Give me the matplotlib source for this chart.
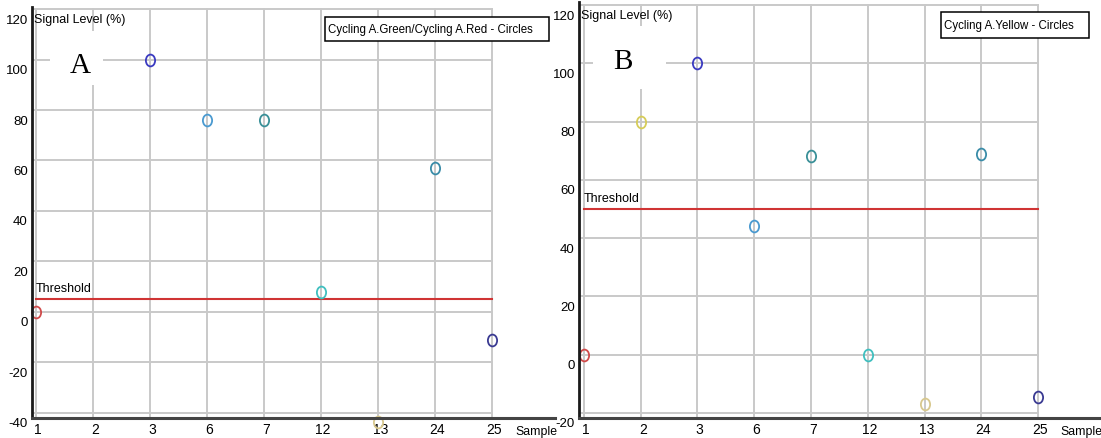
import numpy as np
import matplotlib.pyplot as plt
from matplotlib.path import Path
from matplotlib.patches import Rectangle
from matplotlib.transforms import Affine2D, ScaledTranslation

samples = ['1', '2', '3', '6', '7', '12', '13', '24', '25']
sample_colors = ['#d04a4a', '#d6cc58', '#3a3ac0', '#4a9ad0', '#3a9098',
                 '#3fbfbf', '#d8c88e', '#3a8ca8', '#3a3a92']

signal_a = [0, np.nan, 100, 76, 76, 8, -43.5, 57, -11]
signal_b = [0, 80, 100, 44, 68, 0, -17, 69, -14.6]

threshold_a = 5
threshold_b = 50

yticks_a = [120, 100, 80, 60, 40, 20, 0, -20, -40]
yticks_b = [120, 100, 80, 60, 40, 20, 0, -20]

plt.rcParams['font.family'] = ['Liberation Sans', 'DejaVu Sans']

# slightly tall ellipse, like the instrument software draws
circle = Path.unit_circle().transformed(Affine2D().scale(0.78, 1.0))

fig = plt.figure(figsize=(11.01, 4.39), dpi=100)


def shift(dx, dy):
    return ScaledTranslation(dx / 100, dy / 100, fig.dpi_scale_trans)


def panel(rect, values, threshold, yticks, ylim, xlim, letter, legend_text,
          legend_rect, letter_xy, letter_box):
    ax = fig.add_axes(rect)
    x = np.arange(len(samples))
    ax.set_xlim(*xlim)
    ax.set_ylim(*ylim)

    # grid only spans the sample columns
    for yv in yticks:
        ax.plot([xlim[0], x[-1]], [yv, yv], color='#c9c9c9', lw=1.4, zorder=1)
    for xv in x:
        ax.plot([xv, xv], [ylim[0], yticks[0]], color='#c9c9c9', lw=1.4, zorder=1)

    ax.plot([x[0], x[-1]], [threshold, threshold], color='#d03434', lw=1.5, zorder=2)
    ax.text(x[0], threshold, 'Threshold', fontsize=9, ha='left', va='bottom',
            zorder=3, transform=ax.transData + shift(0, 5))

    for xi, v, c in zip(x, values, sample_colors):
        if np.isnan(v):
            continue
        ax.plot(xi, v, marker=circle, ms=8.5, mfc='none', mec=c, mew=1.3,
                ls='none', zorder=4, clip_on=False)

    ax.set_xticks(x)
    ax.set_xticklabels(samples, fontsize=10)
    ax.set_yticks(yticks)
    ax.set_yticklabels([str(t) for t in yticks], fontsize=9.5)
    ax.tick_params(length=0, pad=3)
    for lab in ax.get_yticklabels():
        lab.set_transform(lab.get_transform() + shift(0, -9))
    for lab in ax.get_xticklabels():
        lab.set_transform(lab.get_transform() + shift(2, 0))

    for s in ['top', 'right']:
        ax.spines[s].set_visible(False)
    ax.spines['left'].set_color('#1a1a1a')
    ax.spines['left'].set_linewidth(2)
    ax.spines['bottom'].set_color('#444444')
    ax.spines['bottom'].set_linewidth(2.2)
    ax.spines['left'].set_zorder(5)
    ax.spines['bottom'].set_zorder(5)

    ax.text(0.003, 1, 'Signal Level (%)', fontsize=9, ha='left', va='center',
            transform=ax.transAxes + shift(0, -12.5))
    ax.text(x[-1] + 0.4, ylim[0], 'Sample', fontsize=8.8, ha='left',
            va='center', transform=ax.transData + shift(0, -13))

    # panel letter on a white patch covering the grid
    lx0, ly0, lx1, ly1 = letter_box
    fig.patches.append(Rectangle((lx0 / 1101, 1 - ly1 / 439),
                                 (lx1 - lx0) / 1101, (ly1 - ly0) / 439,
                                 transform=fig.transFigure, facecolor='white',
                                 edgecolor='none', zorder=6))
    fig.text(letter_xy[0] / 1101, 1 - letter_xy[1] / 439, letter,
             family=['Liberation Serif', 'DejaVu Serif'], fontsize=21,
             ha='center', va='center', zorder=7)

    bx0, by0, bx1, by1 = legend_rect
    fig.patches.append(Rectangle((bx0 / 1101, 1 - by1 / 439),
                                 (bx1 - bx0) / 1101, (by1 - by0) / 439,
                                 transform=fig.transFigure, facecolor='white',
                                 edgecolor='black', lw=1.1, zorder=6))
    fig.text((bx0 + 3) / 1101, 1 - (by0 + by1) / 2 / 439, legend_text,
             fontsize=8.3, ha='left', va='center', zorder=7)
    return ax


panel([32 / 1101, 20 / 439, 523 / 1101, 411.5 / 439], signal_a, threshold_a,
      yticks_a, (-42, 121), (-0.07, 9.1), 'A',
      'Cycling A.Green/Cycling A.Red - Circles', (325, 18, 549, 42),
      (80, 66), (50, 32, 103, 86))

panel([579 / 1101, 20.3 / 439, 522 / 1101, 415.6 / 439], signal_b, threshold_b,
      yticks_b, (-21.7, 121), (-0.088, 9.11), 'B',
      'Cycling A.Yellow - Circles', (941, 13, 1089, 39),
      (623, 62), (593, 27, 666, 90))

fig.savefig('out.png', dpi=100)
